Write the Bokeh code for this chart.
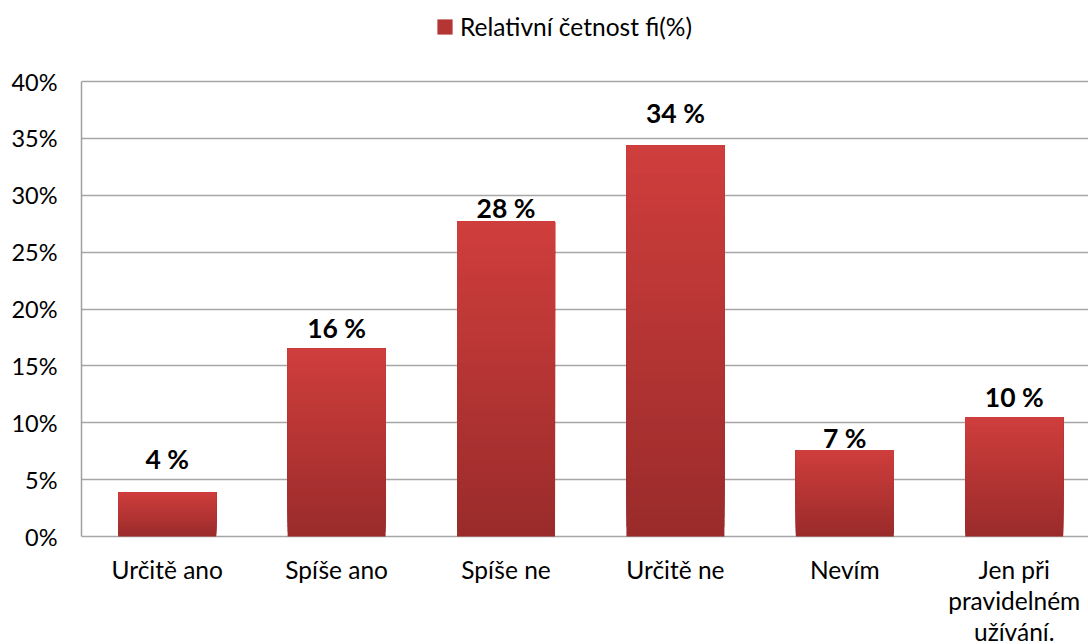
from bokeh.plotting import figure
from bokeh.models import ColumnDataSource, FixedTicker, Legend, LegendItem, Range1d
from bokeh.embed import file_html
from bokeh.resources import INLINE
from bokeh.core.properties import value

# ---- data ----
categories = ["Určitě ano", "Spíše ano", "Spíše ne", "Určitě ne", "Nevím",
              "Jen při\npravidelném\nužívání."]
values = [3.9, 16.5, 27.7, 34.4, 7.6, 10.5]
value_labels = ["4 %", "16 %", "28 %", "34 %", "7 %", "10 %"]
y_ticks = [0, 5, 10, 15, 20, 25, 30, 35, 40]
y_tick_labels = ["0%", "5%", "10%", "15%", "20%", "25%", "30%", "35%", "40%"]
series_name = "Relativní četnost fi(%)"

# ---- style ----
FONT = "Lato"
TOP_COLOR = (0xCF, 0x3E, 0x3C)
BOTTOM_COLOR = (0x9A, 0x2B, 0x2B)
N_BANDS = 40
label_gaps = [24, 12, 4, 23, 3, 11]   # px between bar top and label digits
BASELINE_FIX = 9
BAR_WIDTH = 0.5785
W, H = 1088, 644
LEFT = 81             # px left of the plot area
PLOT_TOP = 81         # px from top to the 40% line
PLOT_BOTTOM = 536     # px from top to the 0% line
CAT_PX = 169.4        # px per category
X_START = -0.506
px_per_unit = (PLOT_BOTTOM - PLOT_TOP) / (y_ticks[-1] - y_ticks[0])
y_start = y_ticks[0] - (H - PLOT_BOTTOM) / px_per_unit
y_end = y_ticks[-1] + PLOT_TOP / px_per_unit
x_end = X_START + (W - LEFT) / CAT_PX

xs = list(range(len(categories)))

p = figure(width=W, height=H, output_backend="svg", toolbar_location=None,
           x_range=Range1d(X_START, x_end), y_range=Range1d(y_start, y_end),
           x_axis_location=None,
           min_border_left=LEFT, min_border_right=0, min_border_top=0,
           min_border_bottom=0)
p.outline_line_color = None
p.background_fill_color = "white"
p.border_fill_color = "white"

# gradient bars: overlapping bands, each from its start up to the bar top
bx, bb, bt, bc = [], [], [], []
for i in range(N_BANDS):
    f = (i + 0.5) / N_BANDS
    r = round(BOTTOM_COLOR[0] + (TOP_COLOR[0] - BOTTOM_COLOR[0]) * f)
    g = round(BOTTOM_COLOR[1] + (TOP_COLOR[1] - BOTTOM_COLOR[1]) * f)
    b = round(BOTTOM_COLOR[2] + (TOP_COLOR[2] - BOTTOM_COLOR[2]) * f)
    col = "#%02x%02x%02x" % (r, g, b)
    for x, v in zip(xs, values):
        bx.append(x)
        bb.append(v * i / N_BANDS)
        bt.append(v)
        bc.append(col)

p.ygrid.grid_line_color = "#A6A6A6"
p.ygrid.grid_line_width = 1.5
p.ygrid.ticker = FixedTicker(ticks=y_ticks)

src = ColumnDataSource(dict(x=bx, bottom=bb, top=bt, color=bc))
bars = p.vbar(x="x", bottom="bottom", top="top", width=BAR_WIDTH, source=src,
              fill_color="color", line_color=None)

# value labels
lsrc = ColumnDataSource(dict(x=xs, y=values, text=value_labels,
                             off=[-(g + BASELINE_FIX) for g in label_gaps]))
p.text(x="x", y="y", text="text", source=lsrc, y_offset="off",
       text_align="center", text_baseline="alphabetic",
       text_font=value(FONT), text_font_style="bold", text_font_size="26.5px",
       text_color="#000000")

# category labels under the 0% line
csrc = ColumnDataSource(dict(x=xs, y=[y_ticks[0]] * len(xs), text=categories))
p.text(x="x", y="y", text="text", source=csrc, y_offset=18,
       text_align="center", text_baseline="top",
       text_font=value(FONT), text_font_size="24.5px", text_line_height=1.08,
       text_color="#000000")

# y axis
p.yaxis.ticker = FixedTicker(ticks=y_ticks)
p.yaxis.major_label_overrides = {t: l for t, l in zip(y_ticks, y_tick_labels)}
p.yaxis.bounds = (y_ticks[0], y_ticks[-1])
p.yaxis.axis_line_color = "#A0A0A0"
p.yaxis.axis_line_width = 1.5
p.yaxis.major_tick_line_color = None
p.yaxis.minor_tick_line_color = None
p.yaxis.major_tick_out = 0
p.yaxis.major_label_text_font = FONT
p.yaxis.major_label_text_font_size = "23.5px"
p.yaxis.major_label_text_color = "#000000"
p.yaxis.major_label_standoff = 24
p.xgrid.grid_line_color = None

legend = Legend(items=[LegendItem(label=series_name, renderers=[bars], index=N_BANDS * 3)],
                location=(354, 603), orientation="horizontal",
                glyph_width=19, glyph_height=19, label_standoff=6,
                padding=0, margin=0, spacing=0,
                label_text_font=FONT, label_text_font_size="24.5px",
                label_text_color="#000000",
                border_line_color=None, background_fill_alpha=0)
p.add_layout(legend, "center")

open("out.html", "w").write(file_html(p, INLINE))
